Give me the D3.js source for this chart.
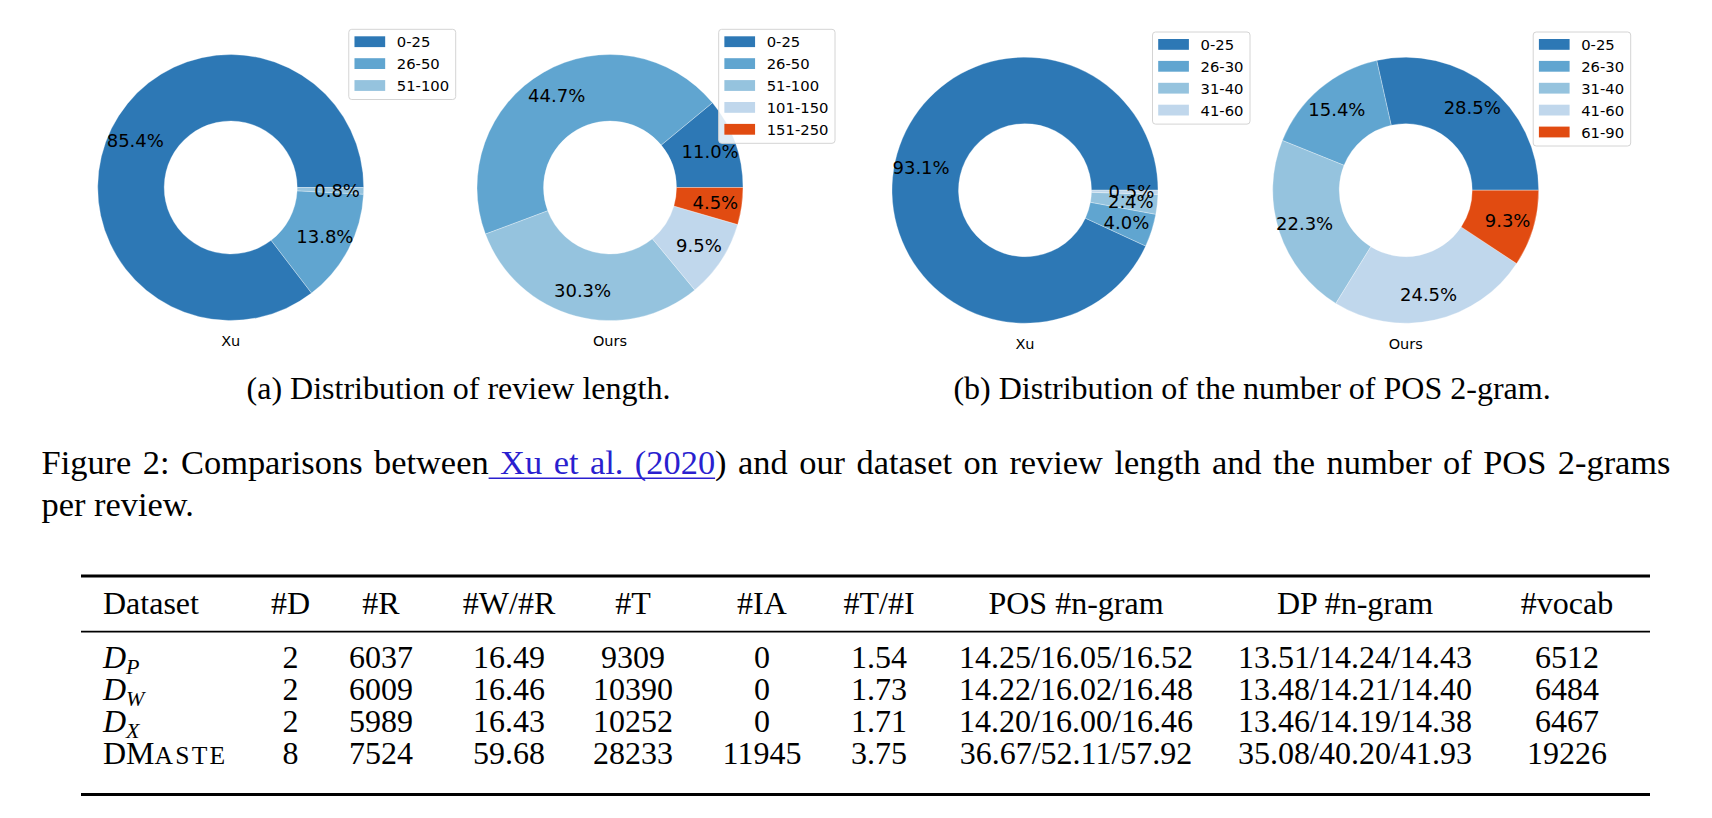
<!DOCTYPE html>
<html><head><meta charset="utf-8">
<script src="https://cdn.jsdelivr.net/npm/d3@7"></script>
<style>body{margin:0;background:#fff;} svg{display:block;background:#fff;}</style>
</head><body><svg id="c" width="1712" height="818"></svg>
<script>
// ---------- data ----------
const lenCatsXu = ["0-25","26-50","51-100"];
const lenValsXu = [85.4, 13.8, 0.8];
const lenCatsOurs = ["0-25","26-50","51-100","101-150","151-250"];
const lenValsOurs = [11.0, 44.7, 30.3, 9.5, 4.5];
const posCatsXu = ["0-25","26-30","31-40","41-60"];
const posValsXu = [93.1, 4.0, 2.4, 0.5];
const posCatsOurs = ["0-25","26-30","31-40","41-60","61-90"];
const posValsOurs = [28.5, 15.4, 22.3, 24.5, 9.3];
const donutNames = ["Xu","Ours","Xu","Ours"];
const subCaptions = ["(a) Distribution of review length.","(b) Distribution of the number of POS 2-gram."];
const figCaption1 = ["Figure 2: Comparisons between", " Xu et al. (2020", ") and our dataset on review length and the number of POS 2-grams"];
const figCaption2 = "per review.";
const tableHeader = ["Dataset","#D","#R","#W/#R","#T","#IA","#T/#I","POS #n-gram","DP #n-gram","#vocab"];
const rowNames = [["D","P"],["D","W"],["D","X"],["DM","ASTE"]];
const colD = ["2","2","2","8"];
const colR = ["6037","6009","5989","7524"];
const colWR = ["16.49","16.46","16.43","59.68"];
const colT = ["9309","10390","10252","28233"];
const colIA = ["0","0","0","11945"];
const colTI = ["1.54","1.73","1.71","3.75"];
const colPOS = ["14.25/16.05/16.52","14.22/16.02/16.48","14.20/16.00/16.46","36.67/52.11/57.92"];
const colDP = ["13.51/14.24/14.43","13.48/14.21/14.40","13.46/14.19/14.38","35.08/40.20/41.93"];
const colVocab = ["6512","6484","6467","19226"];

// ---------- styling / layout ----------
const palette = ["#2d78b5","#60a5d0","#95c3de","#c0d7ec","#e14b11"];
const sans = "'DejaVu Sans', sans-serif";
const serif = "'Liberation Serif', 'Times New Roman', serif";
const svg = d3.select("#c");

const charts = [
  {cats: lenCatsXu,   vals: lenValsXu,   cx: 230.7,  cy: 187.5},
  {cats: lenCatsOurs, vals: lenValsOurs, cx: 610,    cy: 187.5},
  {cats: posCatsXu,   vals: posValsXu,   cx: 1025,   cy: 190.2},
  {cats: posCatsOurs, vals: posValsOurs, cx: 1405.7, cy: 190.2}
];
const R = 133, R0 = 66.5;
const pie = d3.pie().sort(null).value(d => d.v)
  .startAngle(Math.PI / 2).endAngle(Math.PI / 2 - 2 * Math.PI);
const arc = d3.arc().innerRadius(R0).outerRadius(R);
const labelArc = d3.arc().innerRadius(R * 0.8).outerRadius(R * 0.8);
const color = d3.scaleOrdinal().domain(d3.range(5)).range(palette);
const fmt = d3.format(".1f");

charts.forEach((c, ci) => {
  const data = c.cats.map((k, i) => ({k, v: c.vals[i], i}));
  const g = svg.append("g").attr("transform", `translate(${c.cx},${c.cy})`);
  const arcs = pie(data);
  g.selectAll("path").data(arcs).join("path")
    .attr("d", arc).attr("fill", d => color(d.data.i))
    .attr("stroke", "#ffffff").attr("stroke-width", 0.5).attr("stroke-opacity", 0.6);
  g.selectAll("text.pct").data(arcs).join("text").attr("class", "pct")
    .attr("transform", d => `translate(${labelArc.centroid(d)})`)
    .attr("text-anchor", "middle").attr("dominant-baseline", "central")
    .style("font-family", sans).style("font-size", "18px").attr("fill", "#000")
    .text(d => fmt(d.data.v) + "%");
  g.append("text").attr("x", 0).attr("y", 158.8).attr("text-anchor", "middle")
    .style("font-family", sans).style("font-size", "14.5px").attr("fill", "#000")
    .text(donutNames[ci]);

  // legend
  const lg = svg.append("g");
  const rowH = 21.9;
  const texts = [];
  data.forEach((d, i) => {
    const t = lg.append("text").attr("y", 12.4 + rowH * i).attr("dominant-baseline", "central")
      .style("font-family", sans).style("font-size", "14.8px").attr("fill", "#000").text(d.k);
    texts.push(t);
  });
  const tw = d3.max(texts, t => t.node().getComputedTextLength());
  const w = 48 + tw + 6.5;
  const h = 26.4 + rowH * (data.length - 1);
  lg.insert("rect", ":first-child").attr("x", 0).attr("y", 0).attr("width", w).attr("height", h)
    .attr("rx", 3).attr("fill", "#fff").attr("fill-opacity", 0.85)
    .attr("stroke", "#d4d4d4").attr("stroke-width", 1);
  data.forEach((d, i) => {
    lg.append("rect").attr("x", 5.7).attr("y", 12.4 + rowH * i - 5.4)
      .attr("width", 30.7).attr("height", 10.8).attr("fill", color(d.i));
  });
  texts.forEach(t => t.attr("x", 48));
  lg.attr("transform", `translate(${c.cx + 225 - w},${c.cy - 158.2})`);
});

// sub captions
[[458.5, subCaptions[0]], [1252, subCaptions[1]]].forEach(([x, s]) => {
  svg.append("text").attr("x", x).attr("y", 398.5).attr("text-anchor", "middle")
    .style("font-family", serif).style("font-size", "32px").attr("fill", "#000").text(s);
});

// figure caption (justified first line)
const capX0 = 41.5, capX1 = 1670.5;
const capSize = "34.4px";
const cap = svg.append("text").attr("x", capX0).attr("y", 473.5)
  .style("font-family", serif).style("font-size", capSize).attr("fill", "#000");
figCaption1.forEach((s, i) => {
  cap.append("tspan").attr("fill", i === 1 ? "#2a1fcf" : "#000").text(s);
});
const full = figCaption1.join("");
const natural = cap.node().getComputedTextLength();
const nSpaces = (full.match(/ /g) || []).length;
cap.attr("word-spacing", (capX1 - capX0 - natural) / nSpaces);
const linkStart = figCaption1[0].length;
const linkEnd = linkStart + figCaption1[1].length - 1;
const ux0 = cap.node().getStartPositionOfChar(linkStart).x;
const ux1 = cap.node().getEndPositionOfChar(linkEnd).x;
svg.append("line").attr("x1", ux0).attr("x2", ux1).attr("y1", 478.3).attr("y2", 478.3)
  .attr("stroke", "#2a1fcf").attr("stroke-width", 1.4);
svg.append("text").attr("x", capX0).attr("y", 516)
  .style("font-family", serif).style("font-size", capSize).attr("fill", "#000").text(figCaption2);

// table
const colX = [103, 290.5, 381, 509, 633, 762, 879, 1076, 1355, 1567];
const colAnchor = ["start"].concat(d3.range(9).map(() => "middle"));
const tableX0 = 81, tableX1 = 1650;
const rowsY = [668, 700, 732, 764];
[[576, 2.8], [631.7, 1.7], [794.5, 2.8]].forEach(([y, sw]) => {
  svg.append("line").attr("x1", tableX0).attr("x2", tableX1).attr("y1", y).attr("y2", y)
    .attr("stroke", "#000").attr("stroke-width", sw);
});
tableHeader.forEach((h, i) => {
  svg.append("text").attr("x", colX[i]).attr("y", 613.5).attr("text-anchor", colAnchor[i])
    .style("font-family", serif).style("font-size", "32px").attr("fill", "#000").text(h);
});
rowNames.forEach((nm, ri) => {
  const t = svg.append("text").attr("x", colX[0]).attr("y", rowsY[ri])
    .style("font-family", serif).style("font-size", "32px").attr("fill", "#000");
  if (ri < 3) {
    t.append("tspan").style("font-style", "italic").text(nm[0]);
    t.append("tspan").style("font-style", "italic").style("font-size", "22px").attr("dy", 6).text(nm[1]);
  } else {
    t.append("tspan").text(nm[0]);
    t.append("tspan").style("font-size", "25.6px").attr("letter-spacing", 2.2).text(nm[1]);
  }
});
const cols = [colD, colR, colWR, colT, colIA, colTI, colPOS, colDP, colVocab];
cols.forEach((col, ci) => {
  col.forEach((v, ri) => {
    svg.append("text").attr("x", colX[ci + 1]).attr("y", rowsY[ri]).attr("text-anchor", "middle")
      .style("font-family", serif).style("font-size", "32px").attr("fill", "#000").text(v);
  });
});
</script></body></html>
